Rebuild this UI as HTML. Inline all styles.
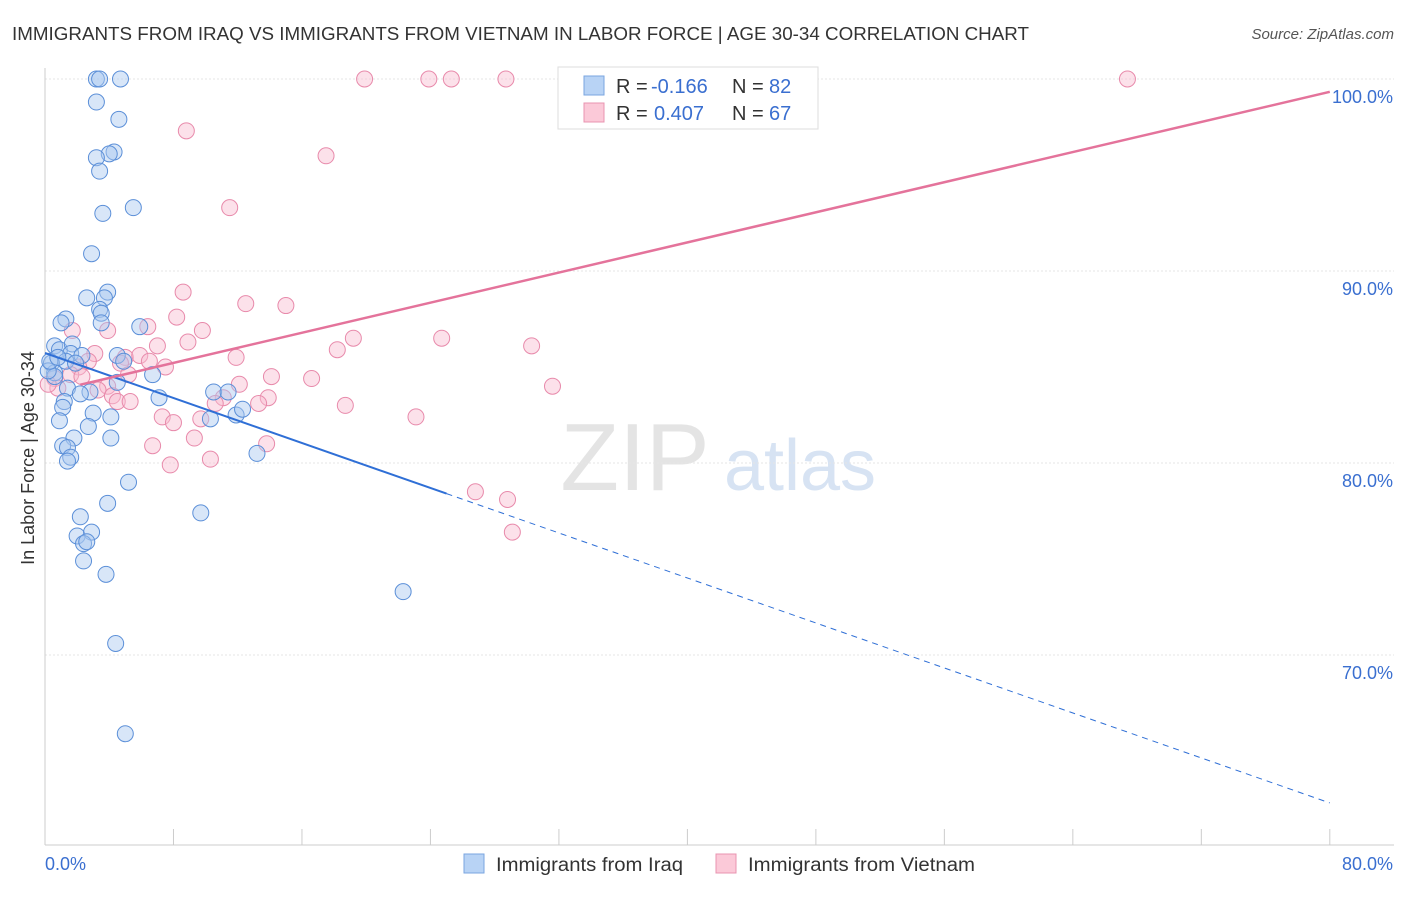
<!DOCTYPE html>
<html><head><meta charset="utf-8">
<style>
body{margin:0;background:#fff;font-family:"Liberation Sans",sans-serif;}
svg text{font-family:"Liberation Sans",sans-serif;}
</style></head>
<body>
<svg id="chart" width="1406" height="892" xmlns="http://www.w3.org/2000/svg">
<text x="12" y="40" font-size="18" fill="#333" textLength="1017" lengthAdjust="spacingAndGlyphs">IMMIGRANTS FROM IRAQ VS IMMIGRANTS FROM VIETNAM IN LABOR FORCE | AGE 30-34 CORRELATION CHART</text>
<text x="1394" y="39" font-size="15" fill="#555" text-anchor="end" font-style="italic">Source: ZipAtlas.com</text>
<text x="635" y="490" font-size="96" fill="#e4e4e4" font-family="Liberation Serif" text-anchor="middle">ZIP</text>
<text x="800" y="490" font-size="72" fill="#d7e3f3" text-anchor="middle">atlas</text>
<g id="grid"></g><g id="axes"></g><g id="marks"></g>
<text transform="translate(34,458) rotate(-90)" font-size="18" fill="#333" text-anchor="middle">In Labor Force | Age 30-34</text>
<g>
<rect x="558" y="67" width="260" height="62" fill="#fff" stroke="#ddd"/>
<rect x="584" y="76" width="20" height="19" fill="#b8d3f5" stroke="#7aa6e0"/>
<text x="616" y="93" font-size="20" fill="#333">R =</text>
<text x="651" y="93" font-size="20" fill="#3a6fd0">-0.166</text>
<text x="732" y="93" font-size="20" fill="#333">N =</text>
<text x="769" y="93" font-size="20" fill="#3a6fd0">82</text>
<rect x="584" y="103" width="20" height="19" fill="#fbc9d8" stroke="#e894b0"/>
<text x="616" y="120" font-size="20" fill="#333">R =</text>
<text x="654" y="120" font-size="20" fill="#3a6fd0">0.407</text>
<text x="732" y="120" font-size="20" fill="#333">N =</text>
<text x="769" y="120" font-size="20" fill="#3a6fd0">67</text>
</g>
<g>
<rect x="464" y="854" width="20" height="19" fill="#b8d3f5" stroke="#7aa6e0"/>
<text x="496" y="871" font-size="19" fill="#333" textLength="187" lengthAdjust="spacingAndGlyphs">Immigrants from Iraq</text>
<rect x="716" y="854" width="20" height="19" fill="#fbc9d8" stroke="#e894b0"/>
<text x="748" y="871" font-size="19" fill="#333" textLength="227" lengthAdjust="spacingAndGlyphs">Immigrants from Vietnam</text>
</g>
</svg>
<script>
const xTicks=[0,8,16,24,32,40,48,56,64,72,80];
const yTicks=[70,80,90,100];
const iraqX=[3.2,3.4,4.7,3.2,4.6,4.3,4.0,3.2,3.4,5.5,3.6,2.9,3.9,2.6,3.7,3.4,3.5,1.3,1.0,3.5,5.9,0.6,0.9,1.7,1.6,2.3,4.5,1.3,1.9,4.9,0.4,0.6,0.6,6.7,4.5,1.4,2.8,2.2,7.1,1.2,1.1,10.5,11.4,3.0,4.1,10.3,11.9,12.3,2.7,0.9,1.8,4.1,1.1,1.4,1.6,1.4,13.2,5.2,3.9,2.2,2.0,2.9,2.4,2.6,2.4,3.8,9.7,22.3,4.4,5.0,0.2,0.3,0.8];
const iraqY=[100,100,100,98.8,97.9,96.2,96.1,95.9,95.2,93.3,93.0,90.9,88.9,88.6,88.6,88.0,87.8,87.5,87.3,87.3,87.1,86.1,85.9,86.2,85.7,85.6,85.6,85.3,85.2,85.3,85.2,84.7,84.5,84.6,84.2,83.9,83.7,83.6,83.4,83.2,82.9,83.7,83.7,82.6,82.4,82.3,82.5,82.8,81.9,82.2,81.3,81.3,80.9,80.8,80.3,80.1,80.5,79.0,77.9,77.2,76.2,76.4,75.8,75.9,74.9,74.2,77.4,73.3,70.6,65.9,84.8,85.3,85.5];
const vietX=[19.9,23.9,25.3,28.7,43.2,67.4,8.8,17.5,11.5,8.6,12.5,15.0,8.2,6.4,9.8,3.9,19.2,18.2,24.7,30.3,7.0,8.9,3.1,5.0,2.7,5.9,11.9,7.5,2.1,4.7,1.6,0.6,2.3,14.1,16.6,31.6,3.9,3.3,0.8,4.2,13.9,4.5,5.3,11.1,13.3,18.7,10.6,7.3,9.7,8.0,23.1,9.3,6.7,13.8,10.3,7.8,26.8,28.8,29.1,0.2,1.7,6.5,12.1,5.2];
const vietY=[100,100,100,100,100,100,97.3,96.0,93.3,88.9,88.3,88.2,87.6,87.1,86.9,86.9,86.5,85.9,86.5,86.1,86.1,86.3,85.7,85.5,85.3,85.6,85.5,85.0,85.0,85.2,84.6,84.4,84.5,84.5,84.4,84.0,84.0,83.8,83.9,83.5,83.4,83.2,83.2,83.4,83.1,83.0,83.1,82.4,82.3,82.1,82.4,81.3,80.9,81.0,80.2,79.9,78.5,78.1,76.4,84.1,86.9,85.3,84.1,84.6];
const X=v=>45+v*16.06, Y=v=>79+(100-v)*19.2;
const ns="http://www.w3.org/2000/svg";
function mk(p,t,a){const e=document.createElementNS(ns,t);for(const k in a)e.setAttribute(k,a[k]);p.appendChild(e);return e;}
const grid=document.getElementById('grid'),axes=document.getElementById('axes'),marks=document.getElementById('marks');
yTicks.forEach(t=>{const l=mk(grid,'line',{x1:45,x2:1394,y1:Y(t),y2:Y(t),stroke:'#e6e6e6','stroke-dasharray':'2,2'});

const tx=mk(axes,'text',{x:1393,y:Y(t)+24,'font-size':18,fill:'#3a6fd0','text-anchor':'end'});tx.textContent=t.toFixed(1)+'%';
});
const ax=mk(axes,'line',{x1:45,x2:45,y1:68,y2:845,stroke:'#ccc'});
const bx=mk(axes,'line',{x1:45,x2:1394,y1:845,y2:845,stroke:'#ccc'});
xTicks.forEach(t=>{const l=mk(axes,'line',{x1:X(t),x2:X(t),y1:829,y2:845,stroke:'#ccc'});});
[[0,'start','0.0%',45],[80,'end','80.0%',1393]].forEach(d=>{const t=mk(axes,'text',{x:d[3],y:870,'font-size':18,fill:'#3a6fd0','text-anchor':d[1]});t.textContent=d[2];});
function dots(xs,ys,fill,stroke,name){xs.forEach((v,i)=>{const c=mk(marks,'circle',{cx:X(v),cy:Y(ys[i]),r:8,fill:fill,'fill-opacity':0.45,stroke:stroke,'stroke-width':1});});}
dots(vietX,vietY,'#f9bcd0','#e88aab','vietnam-point');
dots(iraqX,iraqY,'#a9c8f0','#5b8fd8','iraq-point');
const byv=v=>100-((353+0.3502*(X(v)-45))-79)/19.2;
const l1=mk(marks,'line',{x1:X(0),y1:Y(byv(0)),x2:X(25),y2:Y(byv(25)),stroke:'#2f6fd6','stroke-width':2});
const l2=mk(marks,'line',{x1:X(25),y1:Y(byv(25)),x2:X(80),y2:Y(byv(80)),stroke:'#2f6fd6','stroke-width':1,'stroke-dasharray':'6,5'});
const pyv=v=>100-((393-0.2344*(X(v)-45))-79)/19.2;
const l3=mk(marks,'line',{x1:X(2.2),y1:Y(pyv(2.2)),x2:X(80),y2:Y(pyv(80)),stroke:'#e4739b','stroke-width':2.5});
</script>
</body></html>
